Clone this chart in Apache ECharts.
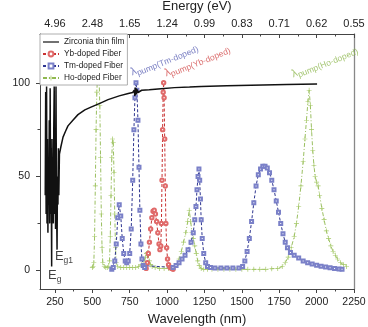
<!DOCTYPE html>
<html><head><meta charset="utf-8">
<script src="https://cdn.jsdelivr.net/npm/echarts@6/dist/echarts.min.js"></script>
<style>html,body{margin:0;padding:0;background:#fff}#c{width:368px;height:327px}</style>
</head><body><div id="c"></div>
<script>
// ---- tick labels ----
const majorTicksX = [250, 500, 750, 1000, 1250, 1500, 1750, 2000, 2250];
const minorTicksX = [375, 625, 875, 1125, 1375, 1625, 1875, 2125];
const energyLabels = ['4.96', '2.48', '1.65', '1.24', '0.99', '0.83', '0.71', '0.62', '0.55'];
const majorTicksY = [0, 50, 100];
const minorTicksY = [25, 75];

// ---- Zirconia thin film ----
const zrWl = [185,188,191,194,197,200,203,206,209,212,215,218,221,224,228,230,233,236,239,242,245,248,251,254,257,260,264,267,270,273,276,280,
  290,304,320,337,370,404,450,491,550,605,680,740,770,780,784,787,790,793,796,800,805,812,830,880,959,1050,1150,1227,1400,1561,1800,2003];
const zrT = [40,95,30,98,25,70,20,60,35,80,25,97,30,65,2,70,40,60,25,75,98,30,55,22,98,40,11,50,35,65,40,62,
  66,71,74,77,80,83,85.5,87,89,91,93,94.3,94.8,96,93,97.5,93.5,97,94,96.5,94.8,95.8,96,96.3,96.8,97.4,97.7,98,98.4,98.7,99.1,99.3];

// ---- Yb-doped fiber ----
const ybWl = [860,868,875,882,890,898,906,914,922,930,938,946,952,958,962,966,970,974,977,980,984,988,992,997,1003,1010,1020,1030,1040];
const ybT  = [1,4,9,15,22,28,31.5,32,30,26,20,14,11,13,25,48,75,95,100,92,70,45,25,12,6,3,1.5,1,0.5];

// ---- Tm-doped fiber ----
const tmWl = [630,640,650,660,670,680,690,700,710,720,730,740,750,760,770,778,785,792,798,805,812,818,825,832,840,850,
  1040,1060,1080,1100,1120,1140,1160,1175,1185,1193,1200,1207,1213,1218,1223,1228,1235,1245,1258,1270,1290,1320,1360,1400,1440,1480,
  1505,1520,1535,1550,1565,1580,1595,1610,1625,1640,1655,1670,1685,1700,1715,1730,1745,1760,1775,1790,1805,1825,1850,1880,1910,1940,1970,2000,2030,2060,2090,2120,2150,2170];
const tmT  = [0.5,1.5,5,14,28,35,29,17,9,5,4,5,9,22,48,75,92,100,96,80,55,32,14,6,2.5,1.5,
  1.5,2.5,4,6,8,11,15,20,27,34,43,50,54,48,38,27,17,9,4,2,1.5,1.2,1.2,1.2,1.2,1.2,
  2,5,10,17,26,36,45,51,54,55.5,55.5,54.5,52,48,43,37,31,25,19.5,15,12,9.5,8,6.5,5,4,3.3,2.7,2.2,1.8,1.4,1,0.7,0.5];

// ---- Ho-doped fiber ----
const hoWl = [500,505,510,515,520,525,530,535,540,545,550,555,560,565,570,580,590,600,610,615,620,625,630,635,640,645,650,655,660,670,690,710,730,750,770,790,810,830,845,855,862,868,875,882,890,900,920,950,980,1010,1040,
  1060,1080,1095,1110,1125,1138,1148,1158,1166,1175,1185,1195,1205,1215,1228,1245,1270,1300,1340,1380,1420,1460,1500,1540,1580,1620,1660,1700,1740,
  1770,1790,1810,1830,1850,1865,1880,1895,1910,1922,1932,1942,1950,1958,1966,1974,1982,1990,2000,2010,2020,2035,2050,2065,2080,2095,2110,2125,2140,2160,2180,2200];
const hoT  = [1.5,2,4,18,45,75,95,104,107,103,88,60,30,12,4,2,1.5,1.5,2,5,18,40,60,70,68,52,30,12,4,2,1.5,1.5,1.5,1.5,1.5,1.5,2,3,5,7,9,9.5,8,5,3,2,1.5,1,1,1,1,
  2.5,6,10,15,20,26,32,26,20,17,13,9,5,2.5,1,0.5,0.5,0.5,0.5,0.5,0.5,0.5,0.5,0.5,0.5,0.5,0.5,0.8,1,
  2,4,7,12,18,25,34,45,58,70,80,90,96,88,75,64,56,50,47,45,40,33,27,21,17,13,10,8,6,4,3,2];

// ---- annotations ----
const pumpNames = ['Tm-doped', 'Yb-doped', 'Ho-doped'];
const pumpAnchorWl = [759, 986, 1836];
const pumpAnchorT = [105.3, 104.8, 104.3];
const gapNames = ['g', 'g1'];
const gapAnchorWl = [203.5, 250];
const gapAnchorT = [1.3, 11.4];

const FONT = 'Liberation Sans, Arial, sans-serif';
const XMIN = 150, XMAX = 2250, YMIN = -10, YMAX = 126;
const zip = (a, b) => a.map((v, i) => [v, b[i]]);

const pumpColors = ['#5a60b4', '#d24a4a', '#8fb850'];

const chart = echarts.init(document.getElementById('c'), null, {renderer: 'canvas'});

const axisCommonX = {type: 'value', min: XMIN, max: XMAX, splitLine: {show: false}};
const axisCommonY = {type: 'value', min: YMIN, max: YMAX, splitLine: {show: false}};

chart.setOption({
  animation: false,
  backgroundColor: '#fff',
  textStyle: {fontFamily: FONT},
  grid: {left: 40, right: 14, top: 34, bottom: 38, containLabel: false, outerBoundsMode: 'none'},
  legend: {
    data: [
      {name: 'Zirconia thin film', icon: 'path://M0,4.4H16V5.6H0Z'},
      'Yb-doped Fiber', 'Tm-doped Fiber', 'Ho-doped Fiber'
    ],
    orient: 'vertical', left: 40, top: 34,
    itemWidth: 16, itemHeight: 6, itemGap: 4,
    padding: [4, 3, 3, 2],
    borderColor: '#999', borderWidth: 0.8, backgroundColor: '#fff',
    textStyle: {fontSize: 8.3, color: '#222', fontFamily: FONT}
  },
  xAxis: [
    Object.assign({}, axisCommonX, {
      position: 'bottom',
      name: 'Wavelength (nm)', nameLocation: 'middle', nameGap: 24,
      nameTextStyle: {fontSize: 13, color: '#222', fontFamily: FONT},
      axisLine: {show: true, onZero: false, lineStyle: {color: '#444', width: 1}},
      axisTick: {show: true, inside: false, length: 4, customValues: majorTicksX, lineStyle: {color: '#444'}},
      axisLabel: {show: true, customValues: majorTicksX, margin: 8, fontSize: 10.5, color: '#222', fontFamily: FONT,
        formatter: v => String(v)}
    }),
    Object.assign({}, axisCommonX, {
      position: 'top',
      name: 'Energy (eV)', nameLocation: 'middle', nameGap: 17,
      nameTextStyle: {fontSize: 13, color: '#222', fontFamily: FONT},
      axisLine: {show: true, onZero: false, lineStyle: {color: '#444', width: 1}},
      axisTick: {show: true, inside: true, length: 4, customValues: majorTicksX, lineStyle: {color: '#444'}},
      axisLabel: {show: true, customValues: majorTicksX, margin: 5, fontSize: 11, color: '#222', fontFamily: FONT,
        formatter: v => energyLabels[majorTicksX.indexOf(v)]}
    }),
    Object.assign({}, axisCommonX, {
      position: 'bottom',
      axisLine: {show: false, onZero: false},
      axisTick: {show: true, inside: false, length: 2.5, customValues: minorTicksX, lineStyle: {color: '#444'}},
      axisLabel: {show: false}
    }),
    Object.assign({}, axisCommonX, {
      position: 'top',
      axisLine: {show: false, onZero: false},
      axisTick: {show: true, inside: true, length: 2.5, customValues: minorTicksX, lineStyle: {color: '#444'}},
      axisLabel: {show: false}
    })
  ],
  yAxis: [
    Object.assign({}, axisCommonY, {
      position: 'left',
      name: '% T', nameLocation: 'middle', nameGap: 21, nameRotate: 90,
      nameTextStyle: {fontSize: 13, color: '#222', fontFamily: FONT},
      axisLine: {show: true, onZero: false, lineStyle: {color: '#444', width: 1}},
      axisTick: {show: true, inside: false, length: 4, customValues: majorTicksY, lineStyle: {color: '#444'}},
      axisLabel: {show: true, customValues: majorTicksY, margin: 10, fontSize: 10.5, color: '#222', fontFamily: FONT}
    }),
    Object.assign({}, axisCommonY, {
      position: 'right',
      axisLine: {show: true, onZero: false, lineStyle: {color: '#888', width: 1.3}},
      axisTick: {show: false}, axisLabel: {show: false}
    }),
    Object.assign({}, axisCommonY, {
      position: 'left',
      axisLine: {show: false, onZero: false},
      axisTick: {show: true, inside: false, length: 2.5, customValues: minorTicksY, lineStyle: {color: '#444'}},
      axisLabel: {show: false}
    })
  ],
  series: [
    {
      name: 'Yb-doped Fiber', type: 'line', data: zip(ybWl, ybT), z: 3,
      symbol: 'emptyCircle', symbolSize: 3.4,
      itemStyle: {color: '#e06a6a', borderWidth: 0.7},
      lineStyle: {color: '#c83232', width: 1, type: [3, 2]}
    },
    {
      name: 'Tm-doped Fiber', type: 'line', data: zip(tmWl, tmT), z: 3,
      symbol: 'emptyRect', symbolSize: 3,
      itemStyle: {color: '#7a80c8', borderWidth: 0.7},
      lineStyle: {color: '#2e3590', width: 1, type: [3, 2]}
    },
    {
      name: 'Ho-doped Fiber', type: 'line', data: zip(hoWl, hoT), z: 2,
      symbol: 'path://M4.3,0H5.7V4.3H10V5.7H5.7V10H4.3V5.7H0V4.3H4.3Z', symbolSize: 5,
      itemStyle: {color: '#a4c866'},
      lineStyle: {color: '#8fb84f', width: 0.9, type: [4, 2, 1, 2]}
    },
    {
      name: 'Zirconia thin film', type: 'line', data: zip(zrWl, zrT), z: 4,
      symbol: 'none', showSymbol: false,
      itemStyle: {color: '#111'},
      lineStyle: {color: '#111', width: 1.5}
    },
    {
      type: 'scatter', silent: true, symbolSize: 1, z: 6,
      itemStyle: {color: 'rgba(0,0,0,0)'},
      data: pumpNames.map((n, i) => ({
        value: [pumpAnchorWl[i], pumpAnchorT[i]],
        label: {
          show: true, position: 'inside', align: 'left', verticalAlign: 'middle', rotate: 22,
          formatter: '{l|λ}{s|pump(' + n + ')}',
          rich: {
            l: {fontSize: 11, color: pumpColors[i], fontFamily: FONT},
            s: {fontSize: 8.5, color: pumpColors[i], fontFamily: FONT, padding: [6, 0, 0, 0]}
          }
        }
      })).concat(gapNames.map((g, i) => ({
        value: [gapAnchorWl[i], gapAnchorT[i]],
        label: {
          show: true, position: 'inside', align: 'left', verticalAlign: 'top',
          formatter: '{e|E}{g|' + g + '}',
          rich: {
            e: {fontSize: 13, color: '#111', fontFamily: FONT},
            g: {fontSize: 8.5, color: '#111', fontFamily: FONT, padding: [7, 0, 0, 0]}
          }
        }
      })))
    }
  ]
});
</script>
</body></html>
